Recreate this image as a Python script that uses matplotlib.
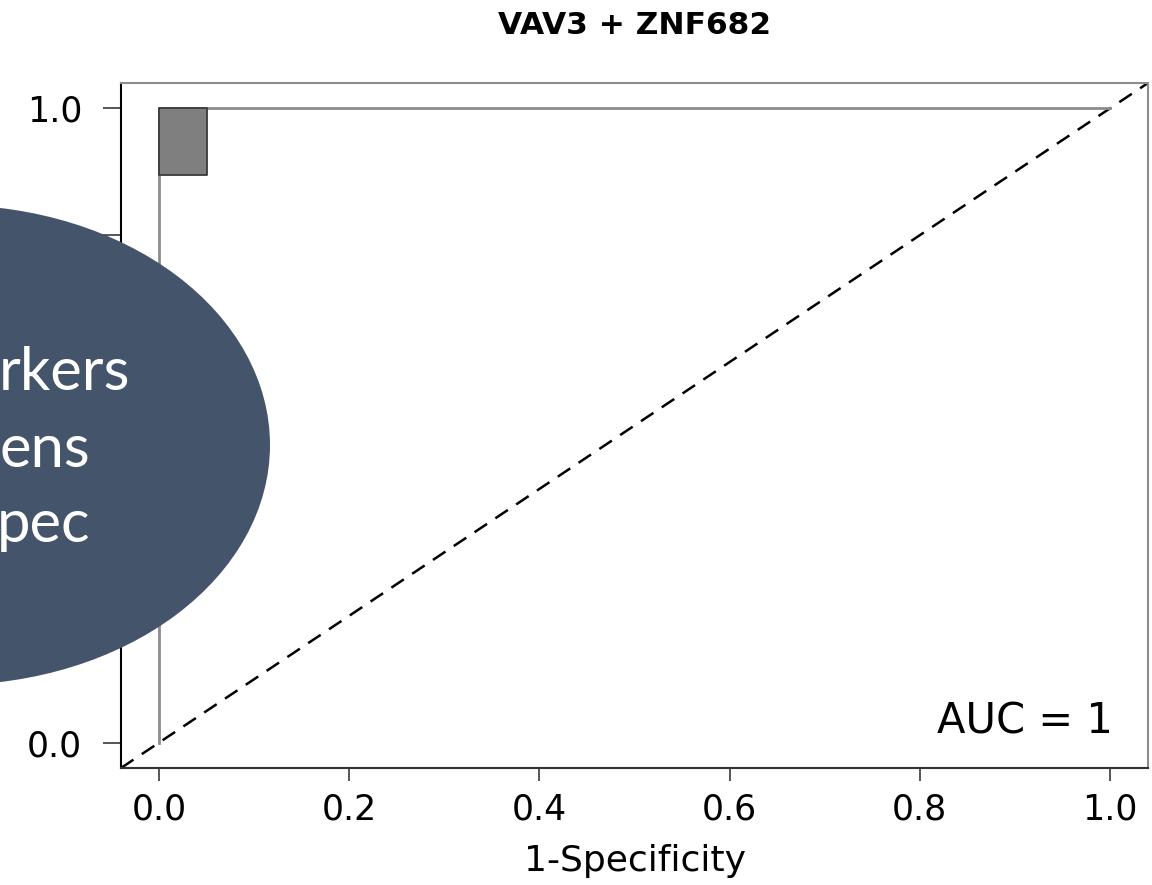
import matplotlib
matplotlib.use('Agg')
import matplotlib.pyplot as plt
from matplotlib.patches import Ellipse

W, H = 1152, 885

# ROC curve (1-specificity vs sensitivity)
fpr = [0.0, 0.0, 1.0]
tpr = [0.0, 1.0, 1.0]
# confidence box drawn at the corner
ci_x = [0.0, 0.05]
ci_lo = [0.895, 0.895]
ci_hi = [1.0, 1.0]
ticks = [0.0, 0.2, 0.4, 0.6, 0.8, 1.0]
xtick_labels = ['0.0', '0.2', '0.4', '0.6', '0.8', '1.0']
# middle y labels sit under the slide's ellipse, so they are not visible
ytick_labels = ['0.0', '', '', '', '', '1.0']
title = 'VAV3 + ZNF682'
auc_text = 'AUC = 1'
slide_lines = ['rkers', 'ens', 'pec']

fig = plt.figure(figsize=(W / 100, H / 100), dpi=100)
ax = fig.add_axes([121 / W, 1 - 768 / H, (1148 - 121) / W, (768 - 83) / H])

ax.plot(fpr, tpr, color='#8c8c8c', lw=2.0, zorder=3)
ax.fill_between(ci_x, ci_lo, ci_hi, facecolor='#7f7f7f', edgecolor='#3a3a3a', lw=1.3, zorder=4)
ax.axline((0, 0), slope=1, color='black', lw=1.8, ls=(0, (6, 4)), zorder=2)

ax.set_xlim(-0.04, 1.04)
ax.set_ylim(-0.04, 1.04)
ax.set_xticks(ticks)
ax.set_xticklabels(xtick_labels, fontsize=25)
ax.set_yticks(ticks)
ax.set_yticklabels(ytick_labels, fontsize=25)
ax.tick_params(axis='x', length=9, width=1.4, color='#555555', pad=9)
ax.tick_params(axis='y', length=13, width=1.4, color='#555555', pad=15)
ax.spines['left'].set_color('black')
ax.spines['bottom'].set_color('#333333')
ax.spines['top'].set_color('#8c8c8c')
ax.spines['right'].set_color('#8c8c8c')
for s in ax.spines.values():
    s.set_linewidth(1.5)

ax.set_xlabel('1-Specificity', fontsize=26, labelpad=12)
ax.text(1.003, 0.015, auc_text, ha='right', va='baseline', fontsize=30)

fig.text(635 / W, 1 - 26 / H, title, ha='center', va='center', fontsize=22.5, fontweight='bold')

# slide overlay: dark ellipse with cut-off words
fig.add_artist(Ellipse((-50 / W, 1 - 445 / H), 640 / W, 480 / H,
                       transform=fig.transFigure, facecolor='#44546a', edgecolor='none', zorder=5))
xs = [130, 90, 90]
ys = [390, 467, 542]
for word, x, y in zip(slide_lines, xs, ys):
    fig.text(x / W, 1 - y / H, word, ha='right', va='baseline', color='white',
             fontsize=43, family='Lato', zorder=6)

fig.savefig('out.png', dpi=100)
